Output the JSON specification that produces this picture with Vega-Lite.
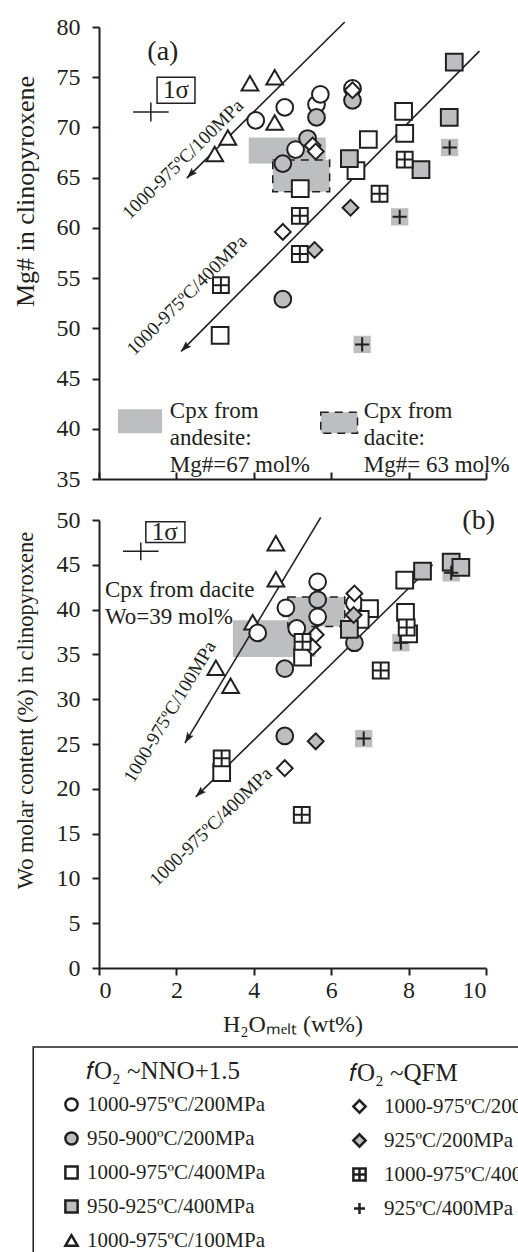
{
  "$schema": "https://vega.github.io/schema/vega-lite/v6.json",
  "padding": {"left": 12, "top": 15, "right": 0, "bottom": 0},
  "background": "white",
  "config": {
    "font": "Liberation Serif",
    "view": {"stroke": null},
    "axis": {
      "grid": false,
      "domainColor": "#231f20",
      "tickColor": "#231f20",
      "labelColor": "#231f20",
      "titleColor": "#231f20",
      "labelFont": "Liberation Serif",
      "titleFont": "Liberation Serif",
      "labelFontSize": 24,
      "titleFontSize": 24,
      "titleFontWeight": "normal",
      "domainWidth": 2,
      "tickWidth": 2
    },
    "legend": {
      "titleFont": "Liberation Serif",
      "titleFontSize": 25,
      "titleFontWeight": "normal",
      "titleColor": "#231f20",
      "labelFont": "Liberation Serif",
      "labelFontSize": 21,
      "labelColor": "#231f20",
      "symbolSize": 150,
      "symbolStrokeWidth": 2.5,
      "symbolStrokeColor": "#231f20",
      "rowPadding": 11,
      "labelLimit": 400,
      "titlePadding": 10,
      "padding": 0,
      "labelOffset": 5
    }
  },
  "datasets": {
    "pts": [
      {"panel":"a","grp":"NNO","cond":"1000-975ºC/100MPa","x":2.99,"y":67.35},
      {"panel":"a","grp":"NNO","cond":"1000-975ºC/100MPa","x":3.33,"y":69.0},
      {"panel":"a","grp":"NNO","cond":"1000-975ºC/100MPa","x":3.90,"y":74.4},
      {"panel":"a","grp":"NNO","cond":"1000-975ºC/100MPa","x":4.54,"y":75.0},
      {"panel":"a","grp":"NNO","cond":"1000-975ºC/100MPa","x":4.54,"y":70.5},
      {"panel":"a","grp":"NNO","cond":"1000-975ºC/200MPa","x":4.05,"y":70.7},
      {"panel":"a","grp":"NNO","cond":"1000-975ºC/200MPa","x":4.80,"y":72.0},
      {"panel":"a","grp":"NNO","cond":"1000-975ºC/200MPa","x":5.08,"y":67.8},
      {"panel":"a","grp":"NNO","cond":"1000-975ºC/200MPa","x":5.62,"y":72.3},
      {"panel":"a","grp":"NNO","cond":"1000-975ºC/200MPa","x":5.72,"y":73.3},
      {"panel":"a","grp":"NNO","cond":"1000-975ºC/200MPa","x":6.55,"y":73.9},
      {"panel":"a","grp":"NNO","cond":"950-900ºC/200MPa","x":5.39,"y":68.9},
      {"panel":"a","grp":"NNO","cond":"950-900ºC/200MPa","x":4.75,"y":66.4},
      {"panel":"a","grp":"NNO","cond":"950-900ºC/200MPa","x":5.62,"y":71.0},
      {"panel":"a","grp":"NNO","cond":"950-900ºC/200MPa","x":6.55,"y":72.7},
      {"panel":"a","grp":"NNO","cond":"950-900ºC/200MPa","x":4.75,"y":52.9},
      {"panel":"a","grp":"NNO","cond":"1000-975ºC/400MPa","x":5.2,"y":63.9},
      {"panel":"a","grp":"NNO","cond":"1000-975ºC/400MPa","x":6.96,"y":68.8},
      {"panel":"a","grp":"NNO","cond":"1000-975ºC/400MPa","x":6.64,"y":65.7},
      {"panel":"a","grp":"NNO","cond":"1000-975ºC/400MPa","x":7.87,"y":71.6},
      {"panel":"a","grp":"NNO","cond":"1000-975ºC/400MPa","x":7.9,"y":69.4},
      {"panel":"a","grp":"NNO","cond":"1000-975ºC/400MPa","x":3.13,"y":49.3},
      {"panel":"a","grp":"NNO","cond":"950-925ºC/400MPa","x":6.47,"y":66.9},
      {"panel":"a","grp":"NNO","cond":"950-925ºC/400MPa","x":9.18,"y":76.5},
      {"panel":"a","grp":"NNO","cond":"950-925ºC/400MPa","x":9.05,"y":71.0},
      {"panel":"a","grp":"NNO","cond":"950-925ºC/400MPa","x":8.32,"y":65.8},
      {"panel":"a","grp":"QFM","cond":"1000-975ºC/200MPa","x":6.55,"y":73.7},
      {"panel":"a","grp":"QFM","cond":"1000-975ºC/200MPa","x":5.52,"y":68.2},
      {"panel":"a","grp":"QFM","cond":"1000-975ºC/200MPa","x":5.6,"y":67.6},
      {"panel":"a","grp":"QFM","cond":"1000-975ºC/200MPa","x":4.75,"y":59.6},
      {"panel":"a","grp":"QFM","cond":"925ºC/200MPa","x":6.5,"y":62.0},
      {"panel":"a","grp":"QFM","cond":"925ºC/200MPa","x":5.57,"y":57.8},
      {"panel":"a","grp":"QFM","cond":"1000-975ºC/400MPa","x":7.9,"y":66.8},
      {"panel":"a","grp":"QFM","cond":"1000-975ºC/400MPa","x":7.25,"y":63.4},
      {"panel":"a","grp":"QFM","cond":"1000-975ºC/400MPa","x":5.19,"y":61.2},
      {"panel":"a","grp":"QFM","cond":"1000-975ºC/400MPa","x":5.19,"y":57.4},
      {"panel":"a","grp":"QFM","cond":"1000-975ºC/400MPa","x":3.15,"y":54.3},
      {"panel":"a","grp":"QFM","cond":"925ºC/400MPa","x":9.06,"y":68.0},
      {"panel":"a","grp":"QFM","cond":"925ºC/400MPa","x":7.77,"y":61.1},
      {"panel":"a","grp":"QFM","cond":"925ºC/400MPa","x":6.8,"y":48.4},
      {"panel":"b","grp":"NNO","cond":"1000-975ºC/100MPa","x":4.57,"y":47.4},
      {"panel":"b","grp":"NNO","cond":"1000-975ºC/100MPa","x":4.57,"y":43.4},
      {"panel":"b","grp":"NNO","cond":"1000-975ºC/100MPa","x":3.97,"y":38.6},
      {"panel":"b","grp":"NNO","cond":"1000-975ºC/100MPa","x":3.02,"y":33.5},
      {"panel":"b","grp":"NNO","cond":"1000-975ºC/100MPa","x":3.4,"y":31.5},
      {"panel":"b","grp":"NNO","cond":"1000-975ºC/200MPa","x":4.83,"y":40.2},
      {"panel":"b","grp":"NNO","cond":"1000-975ºC/200MPa","x":5.65,"y":43.1},
      {"panel":"b","grp":"NNO","cond":"1000-975ºC/200MPa","x":5.65,"y":39.2},
      {"panel":"b","grp":"NNO","cond":"1000-975ºC/200MPa","x":4.1,"y":37.4},
      {"panel":"b","grp":"NNO","cond":"1000-975ºC/200MPa","x":5.11,"y":37.9},
      {"panel":"b","grp":"NNO","cond":"1000-975ºC/200MPa","x":6.6,"y":40.7},
      {"panel":"b","grp":"NNO","cond":"950-900ºC/200MPa","x":5.65,"y":41.1},
      {"panel":"b","grp":"NNO","cond":"950-900ºC/200MPa","x":4.8,"y":33.4},
      {"panel":"b","grp":"NNO","cond":"950-900ºC/200MPa","x":6.6,"y":36.3},
      {"panel":"b","grp":"NNO","cond":"950-900ºC/200MPa","x":4.8,"y":25.9},
      {"panel":"b","grp":"NNO","cond":"1000-975ºC/400MPa","x":7.9,"y":43.3},
      {"panel":"b","grp":"NNO","cond":"1000-975ºC/400MPa","x":6.99,"y":40.1},
      {"panel":"b","grp":"NNO","cond":"1000-975ºC/400MPa","x":6.75,"y":38.9},
      {"panel":"b","grp":"NNO","cond":"1000-975ºC/400MPa","x":7.92,"y":39.7},
      {"panel":"b","grp":"NNO","cond":"1000-975ºC/400MPa","x":8.0,"y":37.3},
      {"panel":"b","grp":"NNO","cond":"1000-975ºC/400MPa","x":5.26,"y":34.7},
      {"panel":"b","grp":"NNO","cond":"1000-975ºC/400MPa","x":3.17,"y":21.8},
      {"panel":"b","grp":"NNO","cond":"950-925ºC/400MPa","x":6.47,"y":37.8},
      {"panel":"b","grp":"NNO","cond":"950-925ºC/400MPa","x":8.36,"y":44.3},
      {"panel":"b","grp":"NNO","cond":"950-925ºC/400MPa","x":9.1,"y":45.3},
      {"panel":"b","grp":"NNO","cond":"950-925ºC/400MPa","x":9.35,"y":44.7},
      {"panel":"b","grp":"QFM","cond":"1000-975ºC/200MPa","x":6.6,"y":41.8},
      {"panel":"b","grp":"QFM","cond":"1000-975ºC/200MPa","x":5.6,"y":37.2},
      {"panel":"b","grp":"QFM","cond":"1000-975ºC/200MPa","x":5.52,"y":35.8},
      {"panel":"b","grp":"QFM","cond":"1000-975ºC/200MPa","x":4.8,"y":22.3},
      {"panel":"b","grp":"QFM","cond":"925ºC/200MPa","x":6.58,"y":39.4},
      {"panel":"b","grp":"QFM","cond":"925ºC/200MPa","x":5.6,"y":25.3},
      {"panel":"b","grp":"QFM","cond":"1000-975ºC/400MPa","x":7.95,"y":38.0},
      {"panel":"b","grp":"QFM","cond":"1000-975ºC/400MPa","x":7.28,"y":33.2},
      {"panel":"b","grp":"QFM","cond":"1000-975ºC/400MPa","x":5.26,"y":36.4},
      {"panel":"b","grp":"QFM","cond":"1000-975ºC/400MPa","x":3.17,"y":23.4},
      {"panel":"b","grp":"QFM","cond":"1000-975ºC/400MPa","x":5.24,"y":17.1},
      {"panel":"b","grp":"QFM","cond":"925ºC/400MPa","x":9.1,"y":44.1},
      {"panel":"b","grp":"QFM","cond":"925ºC/400MPa","x":7.8,"y":36.3},
      {"panel":"b","grp":"QFM","cond":"925ºC/400MPa","x":6.84,"y":25.6}
    ],
    "rects": [
      {"panel":"a","kind":"solid","x":3.87,"x2":5.86,"y":66.4,"y2":69.0},
      {"panel":"a","kind":"dashed","x":4.49,"x2":5.96,"y":63.6,"y2":66.75},
      {"panel":"a","kind":"solid","x":0.49,"x2":1.63,"y":39.56,"y2":41.95},
      {"panel":"a","kind":"dashed","x":5.73,"x2":6.68,"y":39.56,"y2":41.65},
      {"panel":"b","kind":"solid","x":3.46,"x2":5.6,"y":34.7,"y2":38.8},
      {"panel":"b","kind":"dashed","x":4.88,"x2":6.35,"y":38.1,"y2":41.4}
    ],
    "boxes": [
      {"panel":"a","kind":"sigma","x":1.50,"x2":2.48,"y":72.4,"y2":75.0},
      {"panel":"b","kind":"sigma","x":1.21,"x2":2.22,"y":47.5,"y2":49.8},
      {"panel":"b","kind":"legend","x":-1.70,"x2":11.2,"y":-8.82,"y2":-33.5}
    ],
    "notes": [
      {"panel":"a","id":"sig","note":"1σ","x":1.99,"y":73.7},
      {"panel":"a","id":"tag","note":"(a)","x":1.65,"y":77.5},
      {"panel":"a","id":"l100","note":"1000-975ºC/100MPa","x":2.17,"y":66.85},
      {"panel":"a","id":"l400","note":"1000-975ºC/400MPa","x":2.27,"y":53.3},
      {"panel":"a","id":"cpx","note":"Cpx from\nandesite:\nMg#=67 mol%","x":1.83,"y":42.85},
      {"panel":"a","id":"cpx","note":"Cpx from\ndacite:\nMg#= 63 mol%","x":6.84,"y":42.85},
      {"panel":"b","id":"sig","note":"1σ","x":1.70,"y":48.7},
      {"panel":"b","id":"tag","note":"(b)","x":9.81,"y":49.9},
      {"panel":"b","id":"cpx","note":"Cpx from dacite\nWo=39 mol%","x":0.155,"y":43.4},
      {"panel":"b","id":"l100","note":"1000-975ºC/100MPa","x":1.83,"y":28.6},
      {"panel":"b","id":"l400","note":"1000-975ºC/400MPa","x":2.89,"y":15.8}
    ],
    "lines": [
      {"panel":"a","line":"100MPa","end":"top","x":6.35,"y":80.5},
      {"panel":"a","line":"100MPa","end":"tip","x":2.27,"y":64.96},
      {"panel":"a","line":"400MPa","end":"top","x":9.83,"y":77.6},
      {"panel":"a","line":"400MPa","end":"tip","x":2.12,"y":47.7},
      {"panel":"b","line":"100MPa","end":"top","x":5.73,"y":50.3},
      {"panel":"b","line":"100MPa","end":"tip","x":2.22,"y":25.1},
      {"panel":"b","line":"400MPa","end":"top","x":8.62,"y":45.0},
      {"panel":"b","line":"400MPa","end":"tip","x":2.5,"y":19.1}
    ],
    "sigma": [
      {"panel":"a","x":1.34,"y":71.53,"xlo":0.88,"xhi":1.80,"ylo":70.58,"yhi":72.48},
      {"panel":"b","x":1.08,"y":46.5,"xlo":0.62,"xhi":1.54,"ylo":45.5,"yhi":47.5}
    ]
  },
  "vconcat": [
    {
      "width": 387,
      "height": 452,
      "encoding": {
        "x": {"field": "x", "type": "quantitative", "scale": {"domain": [0, 10], "nice": false, "zero": false},
              "axis": {"values": [0, 2, 4, 6, 8, 10], "labels": false, "title": null, "tickSize": -7}},
        "y": {"field": "y", "type": "quantitative", "scale": {"domain": [35, 80], "nice": false, "zero": false},
              "axis": {"values": [35, 40, 45, 50, 55, 60, 65, 70, 75, 80], "tickSize": 7, "labelPadding": 12,
                       "title": "Mg# in clinopyroxene", "titleFontSize": 26, "titlePadding": 18, "titleY": 164}}
      },
      "resolve": {"scale": {"shape": "independent", "fill": "independent"}},
      "layer": [
        {"data": {"name": "rects"}, "transform": [{"filter": "datum.panel == 'a' && datum.kind == 'solid'"}],
         "mark": {"type": "rect", "fill": "#bcbec0"},
         "encoding": {"x2": {"field": "x2"}, "y2": {"field": "y2"}}},
        {"data": {"name": "rects"}, "transform": [{"filter": "datum.panel == 'a' && datum.kind == 'dashed'"}],
         "mark": {"type": "rect", "fill": "#bcbec0", "stroke": "#231f20", "strokeWidth": 1.5, "strokeDash": [8, 6]},
         "encoding": {"x2": {"field": "x2"}, "y2": {"field": "y2"}}},
        {"data": {"name": "boxes"}, "transform": [{"filter": "datum.panel == 'a'"}],
         "mark": {"type": "rect", "filled": false, "stroke": "#231f20", "strokeWidth": 1.5},
         "encoding": {"x2": {"field": "x2"}, "y2": {"field": "y2"}}},
        {"data": {"name": "lines"}, "transform": [{"filter": "datum.panel == 'a'"}],
         "mark": {"type": "line", "color": "#231f20", "strokeWidth": 1.6},
         "encoding": {"detail": {"field": "line"}}},
        {"data": {"name": "lines"}, "transform": [{"filter": "datum.panel == 'a' && datum.end == 'tip'"}],
         "mark": {"type": "point", "shape": "M0,0L0.45,1.3L0,1.05L-0.45,1.3Z", "filled": true, "color": "#231f20", "size": 280, "angle": 225, "opacity": 1}},
        {"data": {"name": "sigma"}, "transform": [{"filter": "datum.panel == 'a'"}],
         "mark": {"type": "rule", "color": "#231f20", "strokeWidth": 1.5},
         "encoding": {"x": {"field": "xlo", "type": "quantitative"}, "x2": {"field": "xhi"}}},
        {"data": {"name": "sigma"}, "transform": [{"filter": "datum.panel == 'a'"}],
         "mark": {"type": "rule", "color": "#231f20", "strokeWidth": 1.5},
         "encoding": {"y": {"field": "ylo", "type": "quantitative"}, "y2": {"field": "yhi"}}},
        {"data": {"name": "notes"}, "transform": [{"filter": "datum.panel == 'a' && datum.id == 'sig'"}],
         "mark": {"type": "text", "fontSize": 25, "color": "#231f20", "align": "center", "baseline": "middle"},
         "encoding": {"text": {"field": "note"}}},
        {"data": {"name": "notes"}, "transform": [{"filter": "datum.panel == 'a' && datum.id == 'tag'"}],
         "mark": {"type": "text", "fontSize": 28, "color": "#231f20", "align": "center", "baseline": "middle"},
         "encoding": {"text": {"field": "note"}}},
        {"data": {"name": "notes"}, "transform": [{"filter": "datum.panel == 'a' && datum.id == 'l100'"}],
         "mark": {"type": "text", "fontSize": 19, "color": "#231f20", "align": "center", "baseline": "middle", "angle": -44.6},
         "encoding": {"text": {"field": "note"}}},
        {"data": {"name": "notes"}, "transform": [{"filter": "datum.panel == 'a' && datum.id == 'l400'"}],
         "mark": {"type": "text", "fontSize": 19, "color": "#231f20", "align": "center", "baseline": "middle", "angle": -45},
         "encoding": {"text": {"field": "note"}}},
        {"data": {"name": "notes"}, "transform": [{"filter": "datum.panel == 'a' && datum.id == 'cpx'"}],
         "mark": {"type": "text", "fontSize": 23, "lineHeight": 27, "lineBreak": "\n", "color": "#231f20", "align": "left", "baseline": "top"},
         "encoding": {"text": {"field": "note"}}},
        {"data": {"name": "pts"}, "transform": [{"filter": "datum.panel == 'a' && datum.cond == '925ºC/400MPa' && datum.grp == 'QFM'"}],
         "mark": {"type": "point", "shape": "square", "filled": true, "color": "#bcbec0", "size": 300, "strokeWidth": 0, "opacity": 1}},
        {"data": {"name": "pts"}, "transform": [{"filter": "datum.panel == 'a' && datum.grp == 'NNO'"}],
         "mark": {"type": "point", "filled": true, "size": 280, "stroke": "#231f20", "strokeWidth": 2, "opacity": 1},
         "encoding": {
           "shape": {"field": "cond", "type": "nominal", "legend": null,
                     "scale": {"domain": ["1000-975ºC/200MPa", "950-900ºC/200MPa", "1000-975ºC/400MPa", "950-925ºC/400MPa", "1000-975ºC/100MPa"],
                               "range": ["circle", "circle", "square", "square", "triangle-up"]}},
           "fill": {"field": "cond", "type": "nominal", "legend": null,
                    "scale": {"domain": ["1000-975ºC/200MPa", "950-900ºC/200MPa", "1000-975ºC/400MPa", "950-925ºC/400MPa", "1000-975ºC/100MPa"],
                              "range": ["white", "#bcbec0", "white", "#bcbec0", "white"]}}
         }},
        {"data": {"name": "pts"}, "transform": [{"filter": "datum.panel == 'a' && datum.grp == 'QFM'"}],
         "mark": {"type": "point", "filled": true, "size": 250, "stroke": "#231f20", "strokeWidth": 2, "opacity": 1},
         "encoding": {
           "shape": {"field": "cond", "type": "nominal", "legend": null,
                     "scale": {"domain": ["1000-975ºC/200MPa", "925ºC/200MPa", "1000-975ºC/400MPa", "925ºC/400MPa"],
                               "range": ["diamond", "diamond", "M-1,-1H1V1H-1Z M0,-1V1 M-1,0H1", "M0,-0.9V0.9 M-0.9,0H0.9"]}},
           "fill": {"field": "cond", "type": "nominal", "legend": null,
                    "scale": {"domain": ["1000-975ºC/200MPa", "925ºC/200MPa", "1000-975ºC/400MPa", "925ºC/400MPa"],
                              "range": ["white", "#bcbec0", "white", "transparent"]}}
         }}
      ]
    },
    {
      "width": 387,
      "height": 448,
      "encoding": {
        "x": {"field": "x", "type": "quantitative", "scale": {"domain": [0, 10], "nice": false, "zero": false},
              "axis": {"values": [0, 2, 4, 6, 8, 10], "tickSize": 7, "labelPadding": 3, "title": "H₂Oₘₑₗₜ (wt%)", "titlePadding": 10}},
        "y": {"field": "y", "type": "quantitative", "scale": {"domain": [0, 50], "nice": false, "zero": false},
              "axis": {"values": [0, 5, 10, 15, 20, 25, 30, 35, 40, 45, 50], "tickSize": 7, "labelPadding": 12,
                       "title": "Wo molar content (%) in clinopyroxene", "titleFontSize": 22.5, "titlePadding": 19, "titleY": 190}}
      },
      "resolve": {"scale": {"shape": "independent", "fill": "independent", "stroke": "independent"}},
      "layer": [
        {"data": {"name": "boxes"}, "transform": [{"filter": "datum.panel == 'b'"}],
         "mark": {"type": "rect", "filled": false, "stroke": "#231f20", "strokeWidth": 1.5},
         "encoding": {"x2": {"field": "x2"}, "y2": {"field": "y2"}}},
        {"data": {"name": "rects"}, "transform": [{"filter": "datum.panel == 'b' && datum.kind == 'solid'"}],
         "mark": {"type": "rect", "fill": "#bcbec0"},
         "encoding": {"x2": {"field": "x2"}, "y2": {"field": "y2"}}},
        {"data": {"name": "rects"}, "transform": [{"filter": "datum.panel == 'b' && datum.kind == 'dashed'"}],
         "mark": {"type": "rect", "fill": "#bcbec0", "stroke": "#231f20", "strokeWidth": 1.5, "strokeDash": [8, 6]},
         "encoding": {"x2": {"field": "x2"}, "y2": {"field": "y2"}}},
        {"data": {"name": "lines"}, "transform": [{"filter": "datum.panel == 'b'"}],
         "mark": {"type": "line", "color": "#231f20", "strokeWidth": 1.6},
         "encoding": {"detail": {"field": "line"}}},
        {"data": {"name": "lines"}, "transform": [{"filter": "datum.panel == 'b' && datum.end == 'tip' && datum.line == '100MPa'"}],
         "mark": {"type": "point", "shape": "M0,0L0.45,1.3L0,1.05L-0.45,1.3Z", "filled": true, "color": "#231f20", "size": 280, "angle": 211, "opacity": 1}},
        {"data": {"name": "lines"}, "transform": [{"filter": "datum.panel == 'b' && datum.end == 'tip' && datum.line == '400MPa'"}],
         "mark": {"type": "point", "shape": "M0,0L0.45,1.3L0,1.05L-0.45,1.3Z", "filled": true, "color": "#231f20", "size": 280, "angle": 225.6, "opacity": 1}},
        {"data": {"name": "sigma"}, "transform": [{"filter": "datum.panel == 'b'"}],
         "mark": {"type": "rule", "color": "#231f20", "strokeWidth": 1.5},
         "encoding": {"x": {"field": "xlo", "type": "quantitative"}, "x2": {"field": "xhi"}}},
        {"data": {"name": "sigma"}, "transform": [{"filter": "datum.panel == 'b'"}],
         "mark": {"type": "rule", "color": "#231f20", "strokeWidth": 1.5},
         "encoding": {"y": {"field": "ylo", "type": "quantitative"}, "y2": {"field": "yhi"}}},
        {"data": {"name": "notes"}, "transform": [{"filter": "datum.panel == 'b' && datum.id == 'sig'"}],
         "mark": {"type": "text", "fontSize": 25, "color": "#231f20", "align": "center", "baseline": "middle"},
         "encoding": {"text": {"field": "note"}}},
        {"data": {"name": "notes"}, "transform": [{"filter": "datum.panel == 'b' && datum.id == 'tag'"}],
         "mark": {"type": "text", "fontSize": 28, "color": "#231f20", "align": "center", "baseline": "middle"},
         "encoding": {"text": {"field": "note"}}},
        {"data": {"name": "notes"}, "transform": [{"filter": "datum.panel == 'b' && datum.id == 'cpx'"}],
         "mark": {"type": "text", "fontSize": 23, "lineHeight": 27, "lineBreak": "\n", "color": "#231f20", "align": "left", "baseline": "top"},
         "encoding": {"text": {"field": "note"}}},
        {"data": {"name": "notes"}, "transform": [{"filter": "datum.panel == 'b' && datum.id == 'l100'"}],
         "mark": {"type": "text", "fontSize": 19, "color": "#231f20", "align": "center", "baseline": "middle", "angle": -59},
         "encoding": {"text": {"field": "note"}}},
        {"data": {"name": "notes"}, "transform": [{"filter": "datum.panel == 'b' && datum.id == 'l400'"}],
         "mark": {"type": "text", "fontSize": 19, "color": "#231f20", "align": "center", "baseline": "middle", "angle": -44},
         "encoding": {"text": {"field": "note"}}},
        {"data": {"name": "pts"}, "transform": [{"filter": "datum.panel == 'b' && datum.cond == '925ºC/400MPa' && datum.grp == 'QFM'"}],
         "mark": {"type": "point", "shape": "square", "filled": true, "color": "#bcbec0", "size": 300, "strokeWidth": 0, "opacity": 1}},
        {"data": {"name": "pts"}, "transform": [{"filter": "datum.panel == 'b' && datum.grp == 'NNO'"}],
         "mark": {"type": "point", "filled": true, "size": 280, "strokeWidth": 2, "opacity": 1},
         "encoding": {
           "shape": {"field": "cond", "type": "nominal",
                     "legend": {"title": "𝑓O₂ ~NNO+1.5", "orient": "none", "legendX": -38, "legendY": 539, "titleAnchor": "middle"},
                     "scale": {"domain": ["1000-975ºC/200MPa", "950-900ºC/200MPa", "1000-975ºC/400MPa", "950-925ºC/400MPa", "1000-975ºC/100MPa"],
                               "range": ["circle", "circle", "square", "square", "triangle-up"]}},
           "fill": {"field": "cond", "type": "nominal",
                    "legend": {"title": "𝑓O₂ ~NNO+1.5", "orient": "none", "legendX": -38, "legendY": 539, "titleAnchor": "middle"},
                    "scale": {"domain": ["1000-975ºC/200MPa", "950-900ºC/200MPa", "1000-975ºC/400MPa", "950-925ºC/400MPa", "1000-975ºC/100MPa"],
                              "range": ["white", "#bcbec0", "white", "#bcbec0", "white"]}},
           "stroke": {"field": "cond", "type": "nominal",
                      "legend": {"title": "𝑓O₂ ~NNO+1.5", "orient": "none", "legendX": -38, "legendY": 539, "titleAnchor": "middle"},
                      "scale": {"domain": ["1000-975ºC/200MPa", "950-900ºC/200MPa", "1000-975ºC/400MPa", "950-925ºC/400MPa", "1000-975ºC/100MPa"],
                                "range": ["#231f20", "#231f20", "#231f20", "#231f20", "#231f20"]}}
         }},
        {"data": {"name": "pts"}, "transform": [{"filter": "datum.panel == 'b' && datum.grp == 'QFM'"}],
         "mark": {"type": "point", "filled": true, "size": 250, "strokeWidth": 2, "opacity": 1},
         "encoding": {
           "shape": {"field": "cond", "type": "nominal",
                     "legend": {"title": "𝑓O₂ ~QFM", "orient": "none", "legendX": 250, "legendY": 541, "titleAnchor": "start", "labelOffset": 14},
                     "scale": {"domain": ["1000-975ºC/200MPa", "925ºC/200MPa", "1000-975ºC/400MPa", "925ºC/400MPa"],
                               "range": ["diamond", "diamond", "M-1,-1H1V1H-1Z M0,-1V1 M-1,0H1", "M0,-0.9V0.9 M-0.9,0H0.9"]}},
           "fill": {"field": "cond", "type": "nominal",
                    "legend": {"title": "𝑓O₂ ~QFM", "orient": "none", "legendX": 250, "legendY": 541, "titleAnchor": "start", "labelOffset": 14},
                    "scale": {"domain": ["1000-975ºC/200MPa", "925ºC/200MPa", "1000-975ºC/400MPa", "925ºC/400MPa"],
                              "range": ["white", "#bcbec0", "white", "transparent"]}},
           "stroke": {"field": "cond", "type": "nominal",
                      "legend": {"title": "𝑓O₂ ~QFM", "orient": "none", "legendX": 250, "legendY": 541, "titleAnchor": "start", "labelOffset": 14},
                      "scale": {"domain": ["1000-975ºC/200MPa", "925ºC/200MPa", "1000-975ºC/400MPa", "925ºC/400MPa"],
                                "range": ["#231f20", "#231f20", "#231f20", "#231f20"]}}
         }}
      ]
    }
  ],
  "spacing": 41,
  "bounds": "flush",
  "resolve": {"scale": {"x": "independent", "y": "independent", "shape": "independent", "fill": "independent", "stroke": "independent"}}
}
